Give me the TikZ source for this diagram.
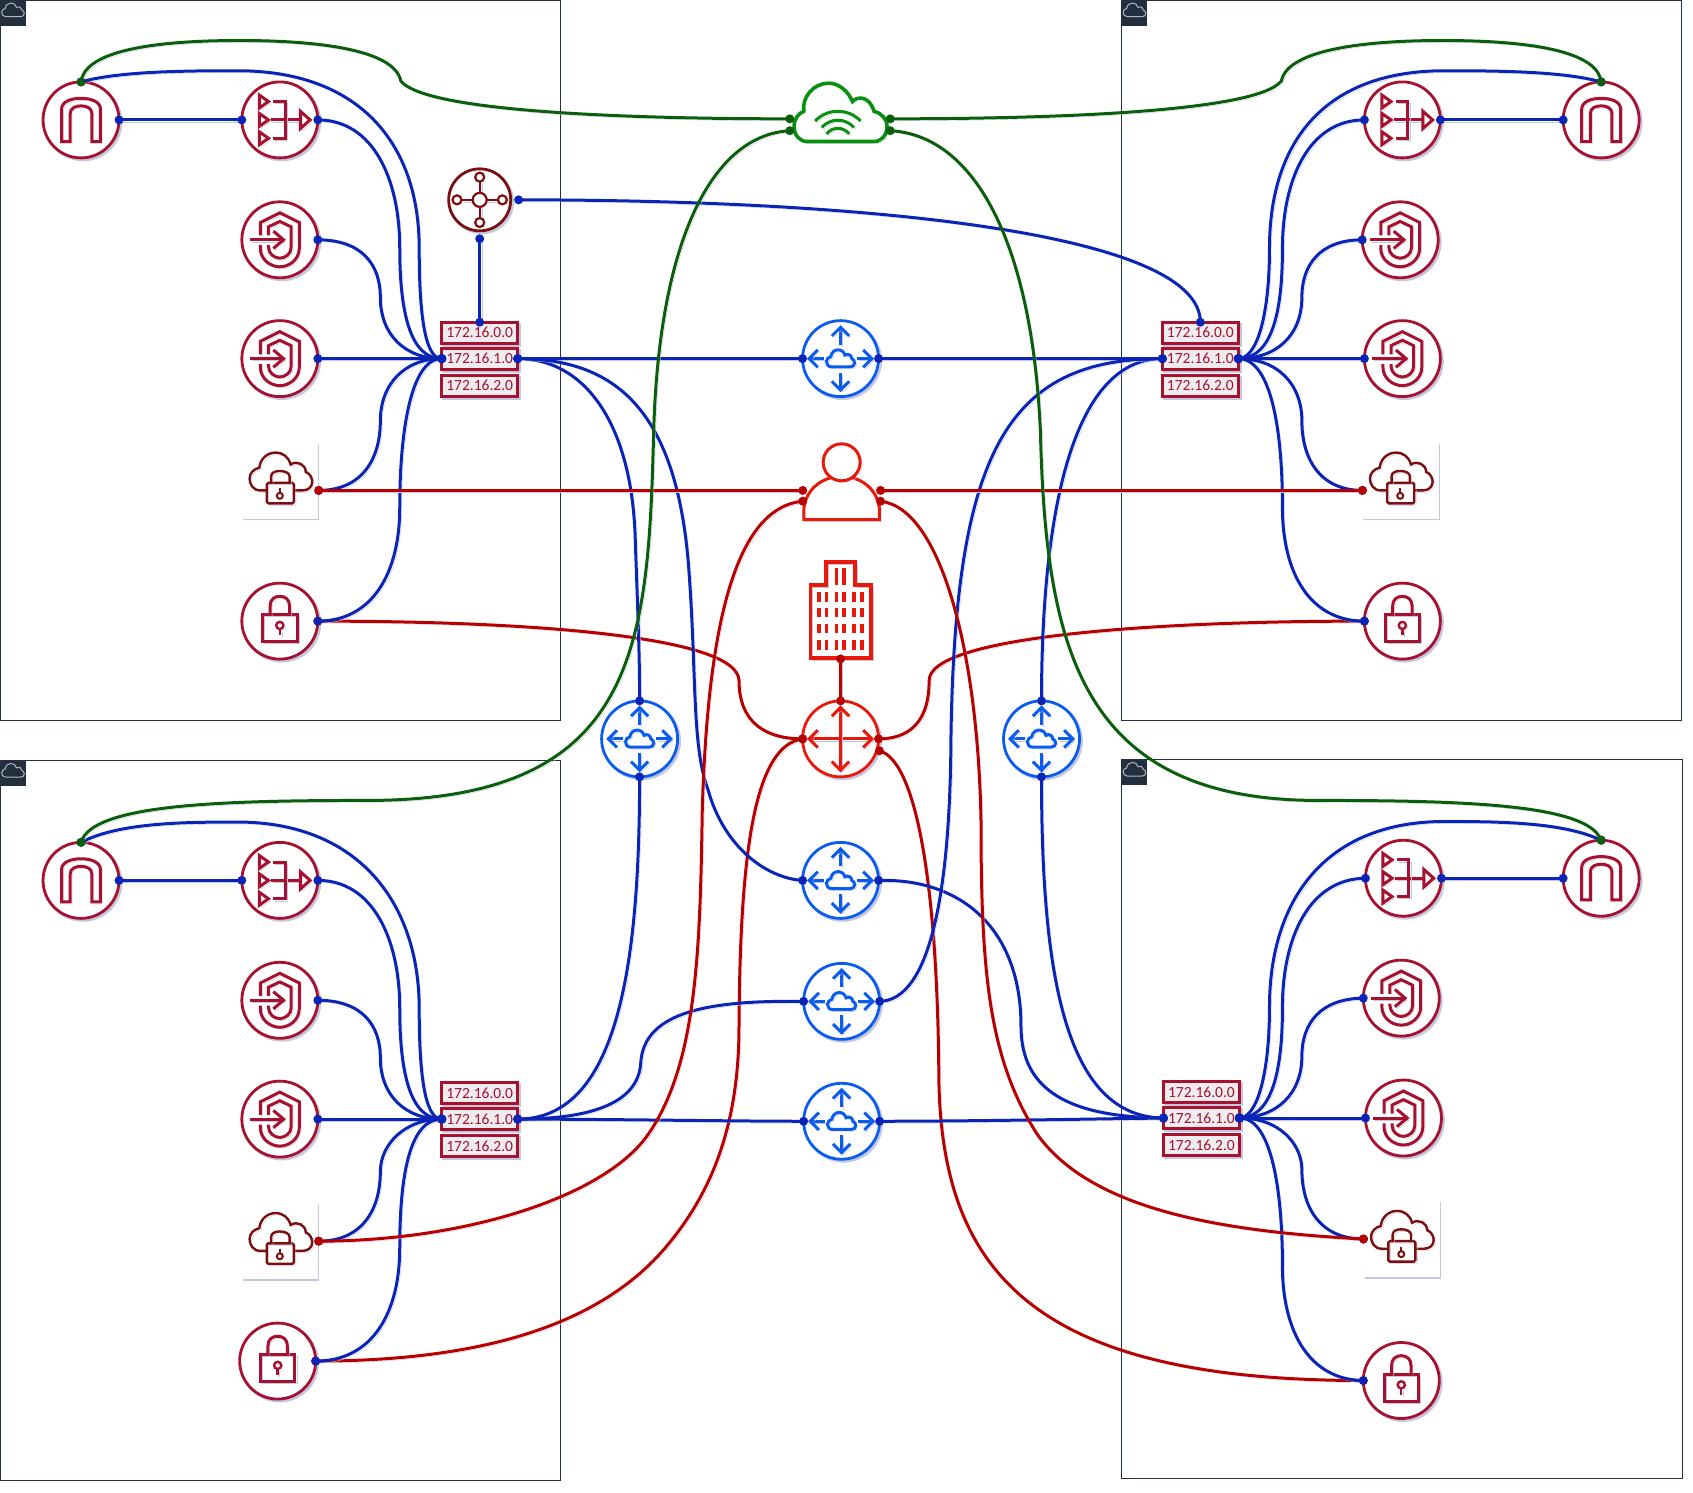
\documentclass[tikz,border=0pt]{standalone}
\usepackage{fontspec}
\setmainfont{Carlito}
\definecolor{crim}{HTML}{A5112E}
\definecolor{maroon}{HTML}{7B0E0E}
\definecolor{rblue}{HTML}{0A5CF0}
\definecolor{rred}{HTML}{E8190A}
\definecolor{cgreen}{HTML}{0A9010}
\definecolor{wblue}{HTML}{0A24B8}
\definecolor{wred}{HTML}{B80000}
\definecolor{wgreen}{HTML}{0B5E0B}
\definecolor{shc}{HTML}{C4C7DE}
\definecolor{tabc}{HTML}{232F3E}
\definecolor{subf}{HTML}{EFECF0}
\tikzset{
  shd/.style={preaction={draw=shc,fill=none,transform canvas={shift={(2pt,-2pt)}}}},
  panelbox/.style={draw=tabc,line width=1pt},
  ring/.style={circle,minimum size=76pt,inner sep=0pt,outer sep=0pt,fill=white,line width=2.8pt,shd},
  glyph/.style={line width=3pt,shd,line join=miter},
  wire/.style={line width=3pt,shd},
  subnet/.style={rectangle,draw=crim,fill=subf,text=crim,line width=3pt,minimum width=76pt,minimum height=21pt,inner sep=0pt,outer sep=0pt,font=\fontsize{15.5}{16}\selectfont,shd},
  vpnbox/.style={rectangle,fill=white,minimum width=76pt,minimum height=76pt,inner sep=0pt,outer sep=0pt},
  hidden/.style={rectangle,inner sep=0pt,outer sep=0pt}
}
\newcommand{\lnk}[4]{\draw[wire,#1] (#2) #3 (#4);\fill[#1] (#2) circle[radius=4.5pt];\fill[#1] (#4) circle[radius=4.5pt];}
\newcommand{\iArch}[3]{\node[ring,draw=crim] (#1) at (#2,#3) {};
 \begin{scope}[shift={(#2,#3)}]\draw[glyph,crim] (-18,20)--(-18,-10) .. controls (-18,-17) and (-9,-20) .. (0,-20) .. controls (9,-20) and (18,-17) .. (18,-10) -- (18,20) -- (10,20) -- (10,-6) .. controls (10,-11) and (5,-13) .. (0,-13) .. controls (-5,-13) and (-10,-11) .. (-10,-6) -- (-10,20) -- cycle;\end{scope}}
\newcommand{\iLB}[3]{\node[ring,draw=crim] (#1) at (#2,#3) {};
 \begin{scope}[shift={(#2,#3)}]
 \foreach \yy in {-17,0,17}{\draw[glyph,crim] (-19,\yy-6)--(-10.5,\yy)--(-19,\yy+6)--cycle;}
 \draw[glyph,crim] (-8,0)--(19,0);
 \draw[glyph,crim] (-6,-17)--(5,-17)--(5,17)--(-6,17);
 \draw[glyph,crim] (19,-8)--(28,0)--(19,8)--cycle;
 \end{scope}}
\newcommand{\iShield}[3]{\node[ring,draw=crim] (#1) at (#2,#3) {};
 \begin{scope}[shift={(#2,#3)}]
 \draw[glyph,crim] (-18,-4) -- (-18,-16) -- (0,-25) -- (18,-16) -- (18,8) .. controls (18,18) and (9,25) .. (0,25) .. controls (-9,25) and (-18,18) .. (-18,8) -- (-18,5);
 \draw[glyph,crim] (-10.5,-4) -- (-10.5,-12) -- (0,-17) -- (10.5,-12) -- (10.5,7) .. controls (10.5,13) and (5,17) .. (0,17) .. controls (-5,17) and (-10.5,13) .. (-10.5,7) -- (-10.5,5);
 \draw[glyph,crim] (-28,0)--(3,0);
 \draw[glyph,crim] (-6,-8)--(3.5,0)--(-6,8);
 \end{scope}}
\newcommand{\iLock}[3]{\node[ring,draw=crim] (#1) at (#2,#3) {};
 \begin{scope}[shift={(#2,#3)}]
 \draw[glyph,crim] (-16,-6) rectangle (16,19);
 \draw[glyph,crim] (-9,-6)--(-9,-14) .. controls (-9,-20) and (-5,-23) .. (0,-23) .. controls (5,-23) and (9,-20) .. (9,-14)--(9,-6);
 \draw[glyph,crim,line width=2.4pt] (0,4) circle[radius=3.6pt];
 \draw[glyph,crim,line width=2.4pt] (0,8)--(0,13);
 \end{scope}}
\newcommand{\iVpn}[3]{\node[vpnbox] (#1) at (#2,#3) {};
 \begin{scope}[shift={(#2,#3)}]
 \draw[shc,line width=1.2pt] (35,-35)--(35,35)--(-35,35);
 \draw[glyph,maroon,line width=2.4pt] (-13,8) -- (-19,8) .. controls (-26,8) and (-29,2) .. (-29,-3) .. controls (-29,-8) and (-25,-12) .. (-20,-13) .. controls (-19,-22) and (-12,-27) .. (-5,-27) .. controls (2,-27) and (7,-23) .. (9,-16) .. controls (15,-20) and (23,-16) .. (23,-9) .. controls (27,-8) and (29,-3) .. (29,0) .. controls (29,5) and (25,8) .. (20,8) -- (12,8);
 \draw[glyph,maroon,line width=2.4pt,rounded corners=1.5pt] (-13,1) rectangle (12,20);
 \draw[glyph,maroon,line width=2.4pt] (-9,1)--(-9,-5) .. controls (-9,-8) and (-6,-10) .. (-1,-10) .. controls (4,-10) and (8,-8) .. (8,-5)--(8,1);
 \draw[maroon,line width=2pt] (-1,13) circle[radius=3pt];
 \draw[maroon,line width=2pt] (-1,6)--(-1,10);
 \end{scope}}
\newcommand{\smallcloud}[1]{\draw[#1] (-19,8) .. controls (-26,8) and (-29,2) .. (-29,-3) .. controls (-29,-8) and (-25,-12) .. (-20,-13) .. controls (-19,-22) and (-12,-27) .. (-5,-27) .. controls (2,-27) and (7,-23) .. (9,-16) .. controls (15,-20) and (23,-16) .. (23,-9) .. controls (27,-8) and (29,-3) .. (29,0) .. controls (29,5) and (25,8) .. (20,8) -- cycle;}
\newcommand{\iRouter}[3]{\node[ring,draw=rblue] (#1) at (#2,#3) {};
 \begin{scope}[shift={(#2,#3)}]
 \draw[glyph,rblue] (0,-29)--(0,-13); \draw[glyph,rblue] (-8,-21)--(0,-29)--(8,-21);
 \draw[glyph,rblue] (0,29)--(0,13); \draw[glyph,rblue] (-8,21)--(0,29)--(8,21);
 \draw[glyph,rblue] (-29,0)--(-15,0); \draw[glyph,rblue] (-21,-8)--(-29,0)--(-21,8);
 \draw[glyph,rblue] (29,0)--(15,0); \draw[glyph,rblue] (21,-8)--(29,0)--(21,8);
 \begin{scope}[shift={(0,4)},scale=.45]\smallcloud{glyph,rblue}\end{scope}
 \end{scope}}
\newcommand{\iTab}[3]{\node[rectangle,fill=tabc,minimum size=26pt,inner sep=0pt,outer sep=0pt,anchor=north west] (#1) at (#2,#3) {};
 \begin{scope}[shift={(#2+12,#3+12.5)},scale=.36]\smallcloud{draw=white!65!tabc,line width=1pt}\end{scope}}
\newcommand{\iSubs}[3]{%
 \node[subnet] (#1s1) at (#2,#3-24) {172.16.0.0};
 \node[subnet] (#1s2) at (#2,#3) {172.16.1.0};
 \node[subnet] (#1s3) at (#2,#3+25) {172.16.2.0};}
% #1 prefix, #2 scope options, #3 anchor facing the subnets, #4 anchor facing the icons, #5 lock y, #6 outer x, #7 peak y, #8 vpn port y
\newcommand{\quadwires}[8]{%
 \begin{scope}[#2]
 \lnk{wblue}{#1arch.north}{.. controls (110,#7+.5) and (170,#7) .. (220,#7) .. controls (330,#7) and (#6,130) .. (#6,230) .. controls (#6,290) and (393,332) ..}{#1s2.#4}
 \lnk{wblue}{#1arch.#3}{--}{#1lb.#4}
 \lnk{wblue}{#1lb.#3}{.. controls (345,111) and (370,165) .. (370,230) .. controls (370,290) and (380,332) ..}{#1s2.#4}
 \lnk{wblue}{#1sha.#3}{.. controls (335,222) and (352,245) .. (352,275) .. controls (352,310) and (375,332) ..}{#1s2.#4}
 \lnk{wblue}{#1shb.#3}{--}{#1s2.#4}
 \lnk{wblue}{#1vp}{.. controls (335,#8) and (352,#8-29) .. (352,#8-64) .. controls (352,355) and (375,332) ..}{#1s2.#4}
 \lnk{wblue}{#1lock.#3}{.. controls (345,#5) and (370,#5-45) .. (370,#5-105) .. controls (370,#5-175) and (380,332) ..}{#1s2.#4}
 \end{scope}}
\begin{document}
\begin{tikzpicture}[x=1.0804pt,y=-1.0802pt]
\useasboundingbox (0pt,0pt) rectangle (1693pt,-1492pt);
% panels
\draw[panelbox] (0,0) rectangle (519,667);
\draw[panelbox] (1038,0) rectangle (1556,667);
\draw[panelbox] (0,704) rectangle (519,1371);
\draw[panelbox] (1038,703) rectangle (1557,1369);
\iTab{tabtl}{0}{0}
\iTab{tabtr}{1038}{0}
\iTab{tabbl}{0}{704}
\iTab{tabbr}{1038}{703}
% top-left
\iArch{tlarch}{75}{111}\iLB{tllb}{259}{111}\iShield{tlsha}{259}{222}\iShield{tlshb}{259}{332}\iVpn{tlv}{260}{446}\iLock{tllock}{259}{575}
\iSubs{tl}{444}{332}
\coordinate (tlvp) at (295,454);
% hub
\node[ring,draw=maroon,minimum size=62pt] (hub) at (444,185) {};
\begin{scope}[shift={(444,185)}]
 \draw[glyph,maroon,line width=2.2pt] (-17,0)--(17,0);
 \draw[glyph,maroon,line width=2.2pt] (0,-17)--(0,17);
 \foreach \cx/\cy in {-21/0,21/0,0/-21,0/21}{\draw[maroon,fill=white,line width=2.2pt] (\cx,\cy) circle[radius=4.5pt];}
 \draw[maroon,fill=white,line width=2.2pt] (0,0) circle[radius=7pt];
\end{scope}
\coordinate (hubE) at (480,185);
\coordinate (hubS) at (444,221);
% top-right
\iLB{trlb}{1298}{111}\iArch{trarch}{1482}{111}\iShield{trsha}{1296}{222}\iShield{trshb}{1298}{332}\iVpn{trv}{1297}{446}\iLock{trlock}{1298}{575}
\iSubs{tr}{1111}{332}
\coordinate (trvp) at (1261,454);
% bottom-left
\iArch{blarch}{75}{815}\iLB{bllb}{259}{815}\iShield{blsha}{259}{926}\iShield{blshb}{259}{1036}\iVpn{blv}{260}{1150}\iLock{bllock}{257}{1260}
\iSubs{bl}{444}{1036}
\coordinate (blvp) at (295,1149);
% bottom-right
\iLB{brlb}{1299}{813}\iArch{brarch}{1482}{813}\iShield{brsha}{1297}{924}\iShield{brshb}{1299}{1035}\iVpn{brv}{1298}{1148}\iLock{brlock}{1297}{1278}
\iSubs{br}{1112}{1035}
\coordinate (brvp) at (1262,1147);
% central wifi cloud
\node[hidden,minimum width=92pt,minimum height=60pt] (wifi) at (778,105) {};
\begin{scope}[shift={(778,105)}]
 \draw[glyph,cgreen,line width=3.6pt,fill=white] (-31,26) .. controls (-38,26) and (-43,20) .. (-43,12) .. controls (-43,5) and (-39,0) .. (-34,-2) .. controls (-36,-15) and (-25,-28) .. (-11,-28) .. controls (-2,-28) and (7,-21) .. (11,-11) .. controls (14,-15) and (26,-18) .. (31,-2) .. controls (38,0) and (43,5) .. (43,12) .. controls (43,20) and (38,26) .. (31,26) -- cycle;
 \draw[glyph,cgreen] (-23.5,7) .. controls (-12,-5) and (7,-5) .. (18.5,7);
 \draw[glyph,cgreen] (-17.5,13) .. controls (-9,4) and (4,4) .. (12.5,13);
 \draw[glyph,cgreen] (-13,19) .. controls (-7,12) and (2,12) .. (8,19);
\end{scope}
\coordinate (wifiWa) at (731,110);
\coordinate (wifiWb) at (731,121);
\coordinate (wifiEa) at (824,110);
\coordinate (wifiEb) at (824,121);
% central routers
\iRouter{rc}{778}{332}
\iRouter{rw}{592}{684}
\iRouter{re}{964}{684}
\iRouter{ra}{778}{815}
\iRouter{rb}{779}{927}
\iRouter{rd}{779}{1038}
% user
\node[hidden,minimum width=76pt,minimum height=78pt] (user) at (779,445) {};
\draw[glyph,rred,fill=white] (744,481)--(744,471) .. controls (746,452) and (762,441) .. (779,441) .. controls (796,441) and (812,452) .. (814,471) -- (814,481) -- cycle;
\draw[glyph,rred,fill=white] (779,428) circle[radius=18.5pt];
\coordinate (userWa) at (743,454);
\coordinate (userWb) at (743,464);
\coordinate (userEa) at (815,454);
\coordinate (userEb) at (815,464);
% building
\node[hidden,minimum width=60pt,minimum height=96pt] (bldg) at (778,565) {};
\draw[glyph,rred,line width=3.6pt] (750,541.7)--(764.6,541.7)--(764.6,520)--(791.4,520)--(791.4,541.7)--(806,541.7)--(806,609)--(750,609)--cycle;
\foreach \wx in {-20,-13,-3.7,3.4,12.6,20}{
  \foreach \wya/\wyb in {548.4/557,563/571.6,577.8/586,592.6/602}{
    \fill[rred] (778+\wx-1.7,\wya) rectangle (778+\wx+1.7,\wyb);}}
\foreach \wx in {-3.7,3.4}{\fill[rred] (778+\wx-1.7,526) rectangle (778+\wx+1.7,542);}
% red router
\node[ring,draw=rred] (rr) at (778,684) {};
\begin{scope}[shift={(778,684)}]
 \draw[glyph,rred] (-29,0)--(29,0);
 \draw[glyph,rred] (0,-29)--(0,29);
 \draw[glyph,rred] (-21,-8)--(-29,0)--(-21,8);
 \draw[glyph,rred] (21,-8)--(29,0)--(21,8);
 \draw[glyph,rred] (-8,-21)--(0,-29)--(8,-21);
 \draw[glyph,rred] (-8,21)--(0,29)--(8,21);
\end{scope}
\coordinate (rrSE) at (814,695);
\coordinate (bldgS) at (778,610);
% red wires to the locks (under the blue ones)
\lnk{wred}{tllock.east}{.. controls (500,575) and (683,590) .. (684,630) .. controls (684,670) and (710,684) ..}{rr.west}
\lnk{wred}{trlock.west}{.. controls (1060,575) and (860,590) .. (860,630) .. controls (860,670) and (840,684) ..}{rr.east}
\lnk{wred}{bllock.east}{.. controls (450,1260) and (560,1225) .. (620,1150) .. controls (665,1095) and (684,1030) .. (684,950) .. controls (685,780) and (700,690) ..}{rr.west}
\lnk{wred}{brlock.west}{.. controls (960,1278) and (872,1180) .. (869,1000) .. controls (868,830) and (850,705) ..}{rrSE}
% blue wires within each quadrant
\quadwires{tl}{}{east}{west}{575}{388}{65.5}{454}
\quadwires{tr}{shift={(1557,0)},xscale=-1}{west}{east}{575}{382}{65.5}{454}
\quadwires{bl}{shift={(0,704)}}{east}{west}{556}{388}{57}{445}
\quadwires{br}{shift={(1557,702.5)},xscale=-1}{west}{east}{575}{382}{58}{444.5}
% blue wires between the quadrants
\lnk{wblue}{hubS}{--}{tls1.north}
\lnk{wblue}{hubE}{.. controls (800,185) and (1111,215) ..}{trs1.north}
\lnk{wblue}{tls2.east}{--}{rc.west}
\lnk{wblue}{rc.east}{--}{trs2.west}
\lnk{wblue}{tls2.east}{.. controls (540,332) and (585,390) .. (588,500) .. controls (590,560) and (592,600) ..}{rw.north}
\lnk{wblue}{tls2.east}{.. controls (570,332) and (625,380) .. (637,520) .. controls (645,620) and (640,690) .. (655,730) .. controls (670,785) and (710,813) ..}{ra.west}
\lnk{wblue}{ra.east}{.. controls (890,813) and (945,860) .. (945,950) .. controls (945,1010) and (990,1034) ..}{brs2.west}
\lnk{wblue}{re.north}{.. controls (964,540) and (975,332) ..}{trs2.west}
\lnk{wblue}{re.south}{.. controls (964,900) and (985,1034) ..}{brs2.west}
\lnk{wblue}{rw.south}{.. controls (592,900) and (570,1036) ..}{bls2.east}
\lnk{wblue}{rb.west}{.. controls (660,926) and (595,935) .. (593,985) .. controls (590,1020) and (550,1036) ..}{bls2.east}
\lnk{wblue}{rb.east}{.. controls (860,926) and (878,830) .. (880,700) .. controls (882,420) and (930,332) ..}{trs2.west}
\lnk{wblue}{rd.west}{.. controls (680,1038) and (560,1036) ..}{bls2.east}
\lnk{wblue}{rd.east}{.. controls (900,1038) and (1000,1036) ..}{brs2.west}
% other red wires
\lnk{wred}{tlvp}{--}{userWa}
\lnk{wred}{userEa}{--}{trvp}
\lnk{wred}{userWb}{.. controls (680,470) and (655,580) .. (650,750) .. controls (648,880) and (645,985) .. (600,1050) .. controls (560,1108) and (430,1149) ..}{blvp}
\lnk{wred}{userEb}{.. controls (870,470) and (905,600) .. (908,760) .. controls (908,900) and (915,980) .. (960,1050) .. controls (1010,1120) and (1130,1140) ..}{brvp}
\lnk{wred}{bldgS}{--}{rr.north}
% green wires
\lnk{wgreen}{wifiWa}{.. controls (600,110) and (395,105) .. (371,75) .. controls (365,45) and (290,37.5) .. (222,37.5) .. controls (130,37.5) and (78,50) ..}{tlarch.north}
\begin{scope}[shift={(1557,0)},xscale=-1]
\lnk{wgreen}{wifiEa}{.. controls (600,110) and (395,105) .. (371,75) .. controls (365,45) and (290,37.5) .. (222,37.5) .. controls (130,37.5) and (78,50) ..}{trarch.north}
\end{scope}
\lnk{wgreen}{wifiWb}{.. controls (660,125) and (610,220) .. (605,400) .. controls (600,600) and (590,741) .. (340,741) .. controls (200,741) and (85,745) ..}{blarch.north}
\lnk{wgreen}{wifiEb}{.. controls (900,125) and (955,220) .. (963,400) .. controls (968,600) and (1000,741) .. (1220,741) .. controls (1360,741) and (1470,745) ..}{brarch.north}
\end{tikzpicture}
\end{document}
